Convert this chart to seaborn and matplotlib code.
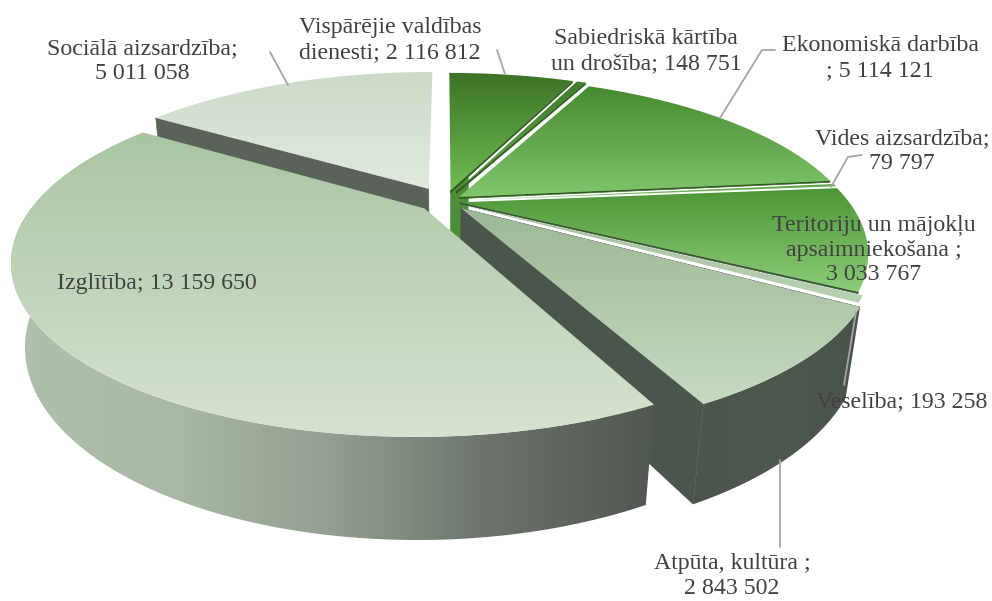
import numpy as np
import matplotlib
matplotlib.use("Agg")
import matplotlib.pyplot as plt
from matplotlib.patches import Polygon
import seaborn as sns

# pieces in clockwise order from 12 o'clock
names = ["Vispārējie valdības\ndienesti; {}", "Sabiedriskā kārtība\nun drošība; {}",
         "Ekonomiskā darbība\n; {}", "Vides aizsardzība;\n{}",
         "Teritoriju un mājokļu\napsaimniekošana ;\n{}", "Veselība; {}",
         "Atpūta, kultūra ;\n{}", "Izglītība; {}", "Sociālā aizsardzība;\n{}"]
values = [2116812, 148751, 5114121, 79797, 3033767, 193258, 2843502, 13159650, 5011058]
explode = [0.07, 0.07, 0.045, 0.04, 0.04, 0.05, 0.06, 0.07, 0.09]

# top colours, upper -> lower
top_a = ["#3c7226", "#3f7d2b", "#468a30", "#5aa545", "#4d9637", "#a3bf9c", "#9cb895", "#a9c5a3", "#cddbc9"]
top_b = ["#6fbd54", "#62a84c", "#80c66d", "#80c66d", "#8dcd79", "#b9d1b3", "#c6dac0", "#d7e3d1", "#e1e9df"]

label_pos = [(390, 40), (646, 51), (880, 58), (902, 151), (874, 250), (902, 402), (732, 576), (157, 283), (142, 61)]
leaders = [[(270, 52), (288, 85)], [(497, 50), (505, 74)], [(775, 50), (762, 50), (720, 118)],
           [(862, 155), (848, 157), (831, 187)], [(780, 460), (780, 547)], [(856, 312), (844, 385)]]

# (piece, side, radial reach, depth, colour)
walls = [(8, 0, 1.0, 1.0, "#5a625a"),
         (0, 1, 0.12, 0.75, "#4e8d3a"),
         (0, 1, 1.0, 0.03, "#2f5c1e"),
         (1, 1, 1.0, 0.03, "#2f5c1e"),
         (2, 1, 1.0, 0.02, "#2f5c1e"),
         (4, 1, 1.0, 0.02, "#35562c"),
         (6, 0, 1.0, 0.015, "#4a5a48"),
         (6, 1, 1.0, 1.0, "#4b554b")]
draw_order = [8, 0, 1, 2, 3, 4, 5, 6, 7]

CX, CY = 445, 201
RX, RY, H = 388, 157, 82
K, M = 0.29, 0.03


def project(X, Y, Z=0.0):
    d = 1 + K * Y + M * Z
    return CX + RX * X / d, CY + (H * Z - RY * Y) / d


def gradient_fill(ax, pts, colors, zorder, horizontal=False):
    pts = np.array(pts)
    cmap = sns.blend_palette(colors, as_cmap=True)
    g = np.linspace(0, 1, 256)
    g = g.reshape(1, -1) if horizontal else g.reshape(-1, 1)
    extent = (pts[:, 0].min(), pts[:, 0].max(), pts[:, 1].max(), pts[:, 1].min())
    im = ax.imshow(g, cmap=cmap, extent=extent, aspect="auto", origin="upper",
                   zorder=zorder, interpolation="bilinear")
    clip = Polygon(pts, closed=True, transform=ax.transData, fc="none", ec="none")
    ax.add_patch(clip)
    im.set_clip_path(clip)


sns.set_theme(style="white")
plt.rcParams["font.family"] = ["Liberation Serif", "DejaVu Serif"]

fig = plt.figure(figsize=(9.92, 6.01), dpi=100)
ax = fig.add_axes([0, 0, 1, 1])

frac = np.array(values) / sum(values)
edges = np.concatenate([[0], np.cumsum(frac)]) * 2 * np.pi
z = 1


def piece_points(i, depth=0.0, n=120):
    mid = (edges[i] + edges[i + 1]) / 2
    ox, oy = explode[i] * np.sin(mid), explode[i] * np.cos(mid)
    t = np.linspace(edges[i], edges[i + 1], n)
    return [project(ox + np.sin(v), oy + np.cos(v), depth) for v in t], (ox, oy)


for i in draw_order:
    rim, (ox, oy) = piece_points(i)
    # radial walls first, the top face hides most of them
    for piece, side, reach, depth, col in walls:
        if piece != i:
            continue
        ang = edges[i + side]
        ex, ey = ox + reach * np.sin(ang), oy + reach * np.cos(ang)
        ax.add_patch(Polygon([project(ox, oy), project(ex, ey), project(ex, ey, depth), project(ox, oy, depth)],
                             closed=True, fc=col, ec=col, lw=0.4, zorder=z))
        z += 1
    if i == 6:
        low, _ = piece_points(i, 1.0)
        gradient_fill(ax, rim + low[::-1], ["#4b554b", "#4e584e", "#4a534a"], z, horizontal=True)
        z += 1
    if i == 7:
        low, _ = piece_points(i, 1.0)
        gradient_fill(ax, rim + low[::-1], ["#b0c0ac", "#a9b9a5", "#939e90", "#6a726a", "#505650"], z, horizontal=True)
        z += 1
    gradient_fill(ax, [project(ox, oy)] + rim, [top_a[i], top_b[i]], z)
    z += 1

for line in leaders:
    xs, ys = zip(*line)
    sns.lineplot(x=list(xs), y=list(ys), ax=ax, color="#a6a6a6", lw=1.3, sort=False, estimator=None, zorder=z)

for name, v, (x, y) in zip(names, values, label_pos):
    txt = name.format(f"{v:,}".replace(",", " "))
    ax.text(x, y, txt, ha="center", va="center", fontsize=17.2, color="#404040", linespacing=1.24, zorder=z + 1)

ax.set_xlim(0, 992)
ax.set_ylim(601, 0)
ax.axis("off")
fig.savefig("out.png", dpi=100)
